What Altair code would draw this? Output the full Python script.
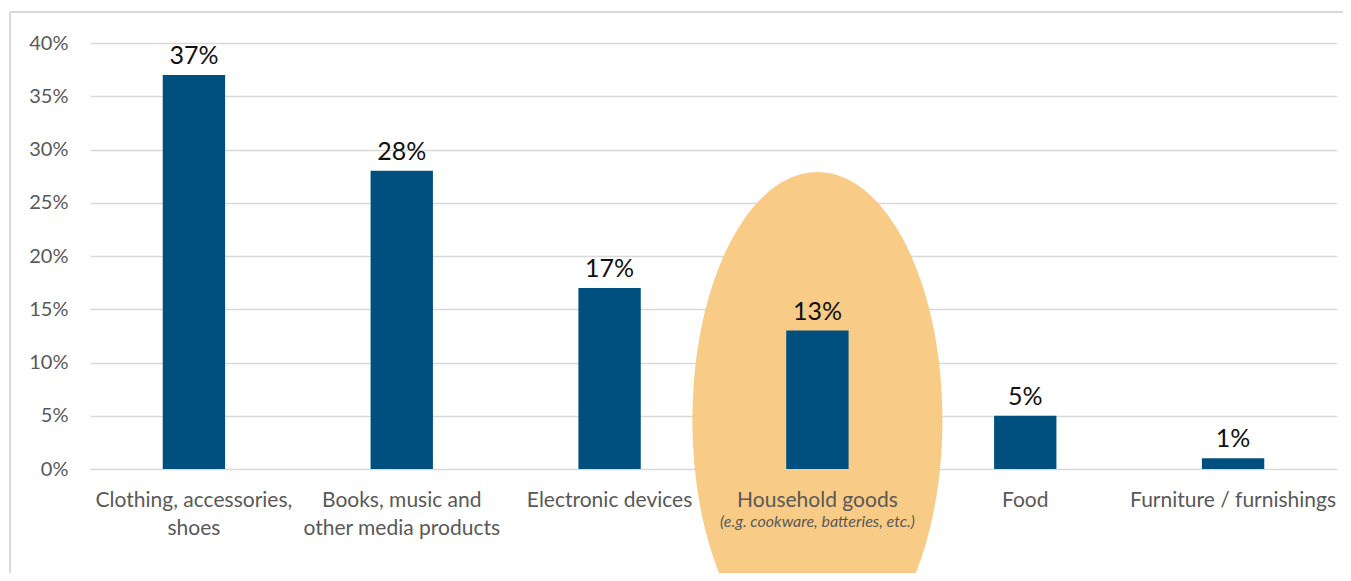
import altair as alt
import pandas as pd

categories = ["Clothing, accessories,|shoes", "Books, music and|other media products",
              "Electronic devices", "Household goods", "Food", "Furniture / furnishings"]
values = [0.37, 0.28, 0.17, 0.13, 0.05, 0.01]
value_labels = ["37%", "28%", "17%", "13%", "5%", "1%"]
highlight_category = ["Household goods"]
highlight_center = [0.046]
note_category = ["Household goods"]
note_text = ["(e.g. cookware, batteries, etc.)"]
y_ticks = [0, 0.05, 0.10, 0.15, 0.20, 0.25, 0.30, 0.35, 0.40]

df = pd.DataFrame({"cat": categories, "val": values, "lab": value_labels})
hl = pd.DataFrame({"cat": highlight_category, "val": highlight_center})
note = pd.DataFrame({"cat": note_category, "txt": note_text})

FONT = "Lato"
GREY = "#595959"
W, H = 1247, 426

xscale = alt.Scale(domain=categories, paddingInner=0.7, paddingOuter=0.35)
yscale = alt.Scale(domain=[0, 0.4], nice=False)

x_enc = alt.X("cat:N", scale=xscale, sort=categories, title=None,
              axis=alt.Axis(labelExpr="split(datum.label, '|')", labelAngle=0,
                            labelAlign="center", labelBaseline="top",
                            labelFont=FONT, labelFontSize=21, labelColor=GREY,
                            labelPadding=20, labelLineHeight=28, ticks=False,
                            domain=False, grid=False, labelLimit=400, zindex=2))
y_enc = alt.Y("val:Q", scale=yscale, title=None,
              axis=alt.Axis(values=y_ticks, format=".0%", labelFont=FONT,
                            labelFontSize=20, labelColor=GREY, labelPadding=22,
                            ticks=False, domain=False, grid=True,
                            gridColor="#d9d9d9", gridWidth=1.5))

ellipse_path = "M -0.504 0 A 0.504 1 0 1 0 0.504 0 A 0.504 1 0 1 0 -0.504 0 Z"

ellipse = alt.Chart(hl).mark_point(
    shape=ellipse_path, filled=True, opacity=1, color="#F8CB86", strokeWidth=0
).encode(
    x=alt.X("cat:N", scale=xscale, sort=categories),
    y=alt.Y("val:Q", scale=yscale),
    size=alt.value(246016),
)

bars = alt.Chart(df).mark_bar(color="#00507F").encode(x=x_enc, y=y_enc)

labels = alt.Chart(df).mark_text(
    baseline="bottom", dy=-6, font=FONT, fontSize=25, color="#111111"
).encode(
    x=alt.X("cat:N", scale=xscale, sort=categories),
    y=alt.Y("val:Q", scale=yscale),
    text="lab:N",
)

notes = alt.Chart(note).mark_text(
    font=FONT, fontSize=16, fontStyle="italic", color=GREY, baseline="middle"
).encode(
    x=alt.X("cat:N", scale=xscale, sort=categories),
    y=alt.value(479),
    text="txt:N",
)

frame_left = alt.Chart(df).mark_rule(color="#d9d9d9", strokeWidth=2).encode(
    x=alt.value(-80), y=alt.value(-31), y2=alt.value(540)
)
frame_top = alt.Chart(df).mark_rule(color="#d9d9d9", strokeWidth=2).encode(
    x=alt.value(-80), x2=alt.value(1300), y=alt.value(-31)
)

chart = alt.layer(ellipse, bars, labels, notes, frame_left, frame_top).properties(
    width=W, height=H,
    autosize=alt.AutoSizeParams(type="none"),
    padding={"left": 82, "top": 35, "right": 6, "bottom": 104},
    background="white",
).configure_view(stroke=None)

chart.save("out.html", embed_options={"renderer": "svg", "actions": False})
